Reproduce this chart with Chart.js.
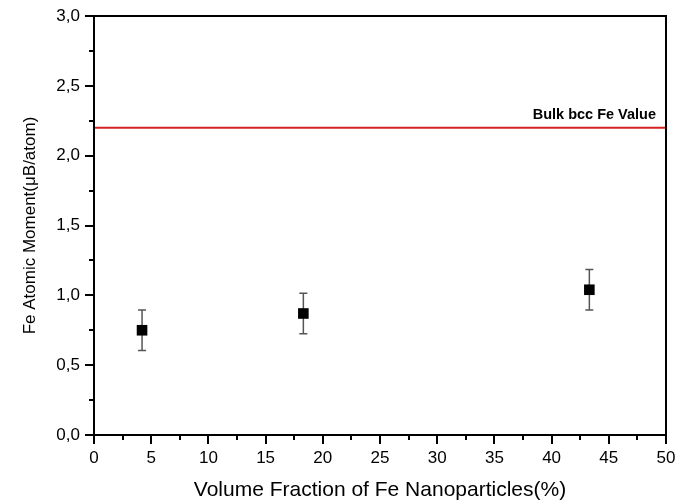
<!DOCTYPE html>
<html>
<head>
<meta charset="utf-8">
<script src="https://cdn.jsdelivr.net/npm/chart.js@4/dist/chart.umd.min.js"></script>
<style>
html,body{margin:0;padding:0;background:#fff;}
#wrap{width:691px;height:502px;position:relative;}
</style>
</head>
<body>
<div id="wrap"><canvas id="c" width="691" height="502"></canvas></div>
<script>
// ---- data ----
const xValues = [4.2, 18.3, 43.3];
const yValues = [0.75, 0.87, 1.04];
const yErrors = [0.145, 0.145, 0.145];
const bulkValue = 2.2;
const bulkLabel = 'Bulk bcc Fe Value';
const xRange = [0, 50];
const yRange = [0, 3];
const xTitle = 'Volume Fraction of Fe Nanoparticles(%)';
const yTitle = 'Fe Atomic Moment(\u03BCB/atom)';

const FONT = '"Liberation Sans", Arial, Helvetica, sans-serif';

const framePlugin = {
  id: 'frame',
  beforeDatasetsDraw(chart) {
    const ctx = chart.ctx;
    const xs = chart.scales.x, ys = chart.scales.y;
    ctx.save();
    ctx.strokeStyle = '#555';
    ctx.lineWidth = 1.5;
    for (let i = 0; i < xValues.length; i++) {
      const px = xs.getPixelForValue(xValues[i]);
      const top = ys.getPixelForValue(yValues[i] + yErrors[i]);
      const bot = ys.getPixelForValue(yValues[i] - yErrors[i]);
      ctx.beginPath();
      ctx.moveTo(px, top); ctx.lineTo(px, bot);
      ctx.moveTo(px - 4, top); ctx.lineTo(px + 4, top);
      ctx.moveTo(px - 4, bot); ctx.lineTo(px + 4, bot);
      ctx.stroke();
    }
    ctx.restore();
  },
  afterDraw(chart) {
    const ctx = chart.ctx;
    const a = chart.chartArea;
    const xs = chart.scales.x, ys = chart.scales.y;
    ctx.save();
    ctx.strokeStyle = '#000';
    ctx.lineWidth = 2;
    ctx.strokeRect(a.left, a.top, a.right - a.left, a.bottom - a.top);
    ctx.beginPath();
    for (let v = xRange[0]; v <= xRange[1] + 1e-9; v += 2.5) {
      const px = Math.round(xs.getPixelForValue(v));
      const major = Math.abs(v / 5 - Math.round(v / 5)) < 1e-6;
      ctx.moveTo(px, a.bottom);
      ctx.lineTo(px, a.bottom + (major ? 9 : 5));
    }
    for (let v = yRange[0]; v <= yRange[1] + 1e-9; v += 0.25) {
      const py = Math.round(ys.getPixelForValue(v));
      const major = Math.abs(v / 0.5 - Math.round(v / 0.5)) < 1e-6;
      ctx.moveTo(a.left, py);
      ctx.lineTo(a.left - (major ? 9 : 5), py);
    }
    ctx.stroke();
    ctx.fillStyle = '#000';
    ctx.font = 'bold 14.5px ' + FONT;
    ctx.textAlign = 'right';
    ctx.textBaseline = 'alphabetic';
    ctx.fillText(bulkLabel, xs.getPixelForValue(xRange[1]) - 10, ys.getPixelForValue(bulkValue) - 9);
    ctx.restore();
  }
};

new Chart(document.getElementById('c'), {
  type: 'scatter',
  data: {
    datasets: [
      {
        label: 'Bulk',
        data: [{x: xRange[0], y: bulkValue}, {x: xRange[1], y: bulkValue}],
        showLine: true,
        borderColor: '#d42222',
        borderWidth: 2,
        pointRadius: 0
      },
      {
        label: 'Fe',
        data: xValues.map((x, i) => ({x: x, y: yValues[i]})),
        pointStyle: 'rect',
        pointRadius: 7.5,
        backgroundColor: '#000',
        borderColor: '#000',
        borderWidth: 0
      }
    ]
  },
  options: {
    responsive: false,
    animation: false,
    events: [],
    layout: {padding: {left: 0, right: 25, top: 16, bottom: 0}},
    plugins: {legend: {display: false}, tooltip: {enabled: false}},
    scales: {
      x: {
        type: 'linear',
        min: xRange[0], max: xRange[1],
        afterFit: s => { s.height = 67; s.paddingLeft = 0; s.paddingRight = 0; },
        grid: {display: false, drawTicks: false},
        border: {display: false},
        ticks: {
          stepSize: 5,
          padding: 13,
          color: '#000',
          font: {family: FONT, size: 17},
          maxRotation: 0
        },
        title: {
          display: true,
          text: xTitle,
          color: '#000',
          font: {family: FONT, size: 21},
          padding: {top: 0, bottom: -1}
        }
      },
      y: {
        type: 'linear',
        min: yRange[0], max: yRange[1],
        afterFit: s => { s.width = 94; s.paddingTop = 0; s.paddingBottom = 0; },
        grid: {display: false, drawTicks: false},
        border: {display: false},
        ticks: {
          stepSize: 0.5,
          padding: 14,
          color: '#000',
          font: {family: FONT, size: 17},
          callback: v => v.toFixed(1).replace('.', ',')
        },
        title: {
          display: true,
          text: yTitle,
          color: '#000',
          font: {family: FONT, size: 17},
          padding: {top: 20, bottom: 0}
        }
      }
    }
  },
  plugins: [framePlugin]
});
</script>
</body>
</html>
